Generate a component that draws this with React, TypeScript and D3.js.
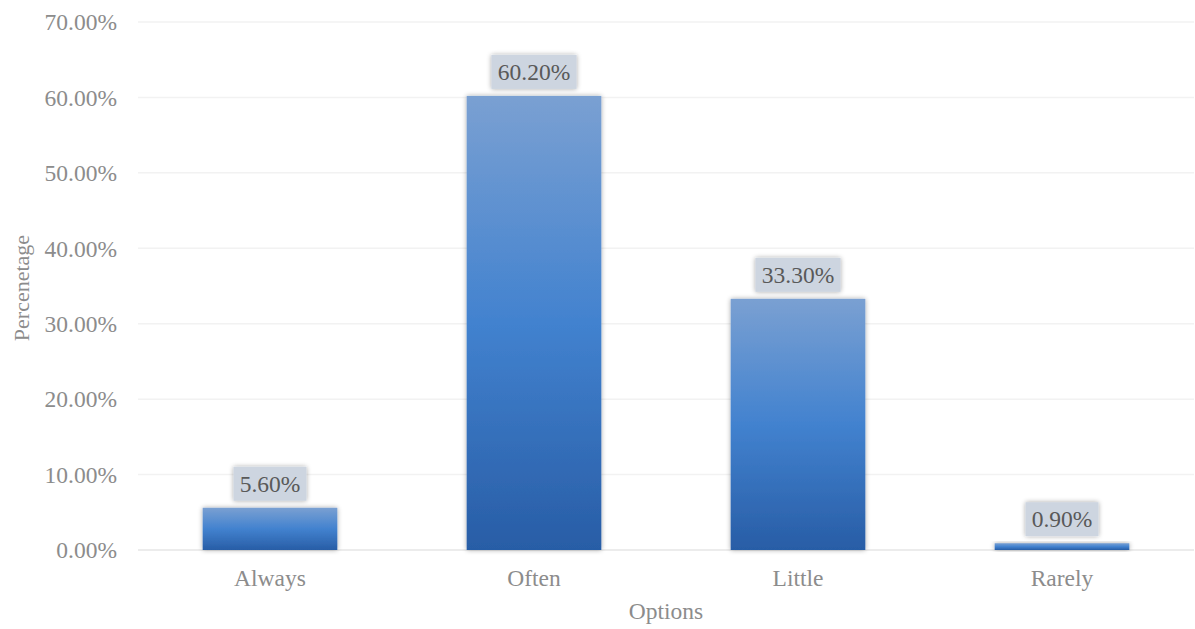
import React from "react";
import * as d3 from "d3";

const categories = ["Always", "Often", "Little", "Rarely"];
const values = [5.6, 60.2, 33.3, 0.9];
const yTicks = [0, 10, 20, 30, 40, 50, 60, 70];

const W = 1195;
const H = 629;
const margin = { left: 138, right: 1, top: 22, bottom: 79 };

export default function App() {
  const x = d3
    .scaleBand<string>()
    .domain(categories)
    .range([margin.left, W - margin.right])
    .paddingInner(0.49)
    .paddingOuter(0.245);
  const y = d3.scaleLinear().domain([0, 70]).range([H - margin.bottom, margin.top]);
  const font = "'Liberation Serif', 'Times New Roman', serif";
  const fs = 23.5;

  return (
    <svg
      width={W}
      height={H}
      style={{ position: "absolute", left: 0, top: 0, background: "#fff" }}
      fontFamily={font}
    >
      <defs>
        <linearGradient id="barGrad" x1="0" y1="0" x2="0" y2="1">
          <stop offset="0%" stopColor="#7aa0d2" />
          <stop offset="50%" stopColor="#4282cf" />
          <stop offset="100%" stopColor="#285da6" />
        </linearGradient>
        <filter id="shadow" x="-20%" y="-20%" width="140%" height="140%">
          <feGaussianBlur in="SourceAlpha" stdDeviation="2.5" />
          <feOffset dx="0" dy="0" result="b" />
          <feComponentTransfer>
            <feFuncA type="linear" slope="0.35" />
          </feComponentTransfer>
          <feMerge>
            <feMergeNode />
            <feMergeNode in="SourceGraphic" />
          </feMerge>
        </filter>
      </defs>
      {yTicks.map((t) => (
        <g key={t}>
          <line
            x1={margin.left}
            x2={W - margin.right}
            y1={y(t)}
            y2={y(t)}
            stroke={t === 0 ? "#e6e6e6" : "#f2f2f2"}
            strokeWidth={1.5}
          />
          <text
            x={117}
            y={y(t)}
            dy="0.35em"
            textAnchor="end"
            fontSize={fs}
            fill="#8c8c8c"
          >
            {t.toFixed(2)}%
          </text>
        </g>
      ))}
      {categories.map((c, i) => {
        const v = values[i];
        const bx = x(c)!;
        const bw = x.bandwidth();
        const cx = bx + bw / 2;
        const top = y(v);
        const label = v.toFixed(2) + "%";
        const boxW = label.length * 12.2 + 12;
        const boxH = 34;
        const boxBottom = top - 7;
        return (
          <g key={c}>
            <rect
              x={bx}
              y={top}
              width={bw}
              height={y(0) - top}
              fill="url(#barGrad)"
              filter="url(#shadow)"
            />
            <rect
              x={cx - boxW / 2}
              y={boxBottom - boxH}
              width={boxW}
              height={boxH}
              fill="#cdd5e0"
              filter="url(#shadow)"
            />
            <text
              x={cx}
              y={boxBottom - boxH / 2}
              dy="0.35em"
              textAnchor="middle"
              fontSize={fs}
              fill="#595959"
            >
              {label}
            </text>
            <text
              x={cx}
              y={y(0) + 36}
              textAnchor="middle"
              fontSize={fs}
              fill="#8c8c8c"
            >
              {c}
            </text>
          </g>
        );
      })}
      <text
        x={666}
        y={619}
        textAnchor="middle"
        fontSize={fs}
        fill="#8c8c8c"
      >
        Options
      </text>
      <text
        transform={`translate(29, 288) rotate(-90)`}
        textAnchor="middle"
        fontSize={22}
        fill="#8c8c8c"
      >
        Percenetage
      </text>
    </svg>
  );
}
